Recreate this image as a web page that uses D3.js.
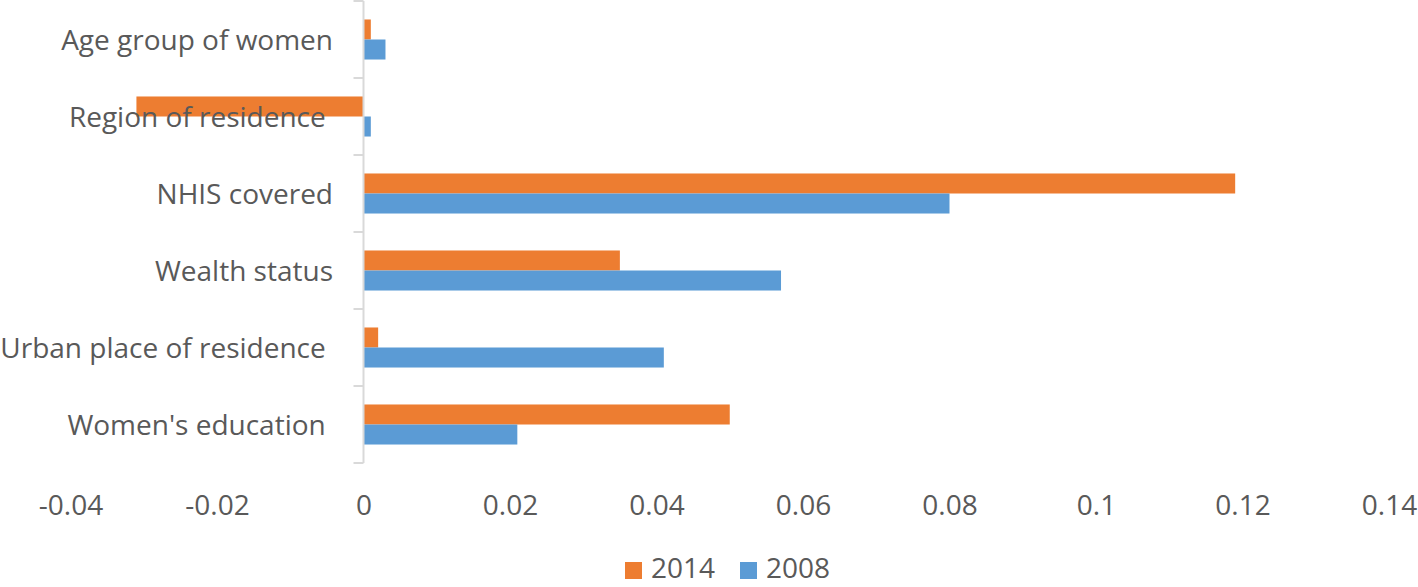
<!DOCTYPE html>
<html><head><meta charset="utf-8">
<script src="https://d3js.org/d3.v7.min.js"></script>
<style>
html,body{margin:0;padding:0;background:#fff;}
svg{display:block;font-family:"Open Sans",sans-serif;}
text{white-space:pre;}
</style></head>
<body>
<script>
const categories = ["Age group of women","Region of residence ","NHIS covered","Wealth status","Urban place of residence ","Women's education "];
const seriesNames = ["2014","2008"];
const values2014 = [0.001,-0.031,0.119,0.035,0.002,0.050];
const values2008 = [0.003,0.001,0.080,0.057,0.041,0.021];
const xTicks = [-0.04,-0.02,0,0.02,0.04,0.06,0.08,0.1,0.12,0.14];
const colors = ["#ED7D31","#5B9BD5"];

const W = 1418, H = 587;
const svg = d3.select("body").append("svg").attr("width",W).attr("height",H);

const x = d3.scaleLinear().domain([-0.04,0.14]).range([70.5,1389]);
const y = d3.scaleBand().domain(categories).range([1,463]).paddingInner(0.48).paddingOuter(0.24);
const ys = d3.scaleBand().domain(seriesNames).range([0,y.bandwidth()]);
const seriesVals = [values2014, values2008];

const g = svg.append("g");
seriesNames.forEach((s,si)=>{
  g.selectAll(null).data(categories).enter().append("rect")
    .attr("x",(d,i)=>x(Math.min(0,seriesVals[si][i])))
    .attr("width",(d,i)=>Math.abs(x(seriesVals[si][i])-x(0)))
    .attr("y",d=>y(d)+ys(s))
    .attr("height",ys.bandwidth())
    .attr("fill",colors[si]);
});

// category labels
svg.append("g").selectAll("text").data(categories).enter().append("text")
  .attr("x",333).attr("y",d=>y(d)+y.bandwidth()/2)
  .attr("dy","0.36em").attr("text-anchor","end")
  .attr("font-size",28).attr("fill","#595959").text(d=>d);

// vertical axis line and ticks
const yEdges = categories.map(c=>y(c)-y.step()*y.paddingInner()/2);
yEdges.push(463);
svg.append("line").attr("x1",x(0)).attr("x2",x(0)).attr("y1",1).attr("y2",463)
  .attr("stroke","#d9d9d9").attr("stroke-width",2);
svg.append("g").selectAll("line").data(yEdges).enter().append("line")
  .attr("x1",x(0)-10).attr("x2",x(0)).attr("y1",d=>d).attr("y2",d=>d)
  .attr("stroke","#d9d9d9").attr("stroke-width",2);

// x axis tick labels
const xAxis = d3.axisBottom(x).tickValues(xTicks).tickSize(0).tickPadding(0).tickFormat(d=>String(d));
const xg = svg.append("g").attr("transform","translate(0,515)").call(xAxis);
xg.select(".domain").remove();
xg.selectAll("text").attr("font-size",28).attr("fill","#595959").attr("font-family","Open Sans, sans-serif").attr("dy","0");

// legend
const legend = svg.append("g");
const legX = [625,740];
seriesNames.forEach((s,i)=>{
  legend.append("rect").attr("x",legX[i]).attr("y",562).attr("width",17).attr("height",17).attr("fill",colors[i]);
  legend.append("text").attr("x",legX[i]+26).attr("y",578).attr("font-size",28).attr("fill","#595959").text(s);
});
</script>
</body></html>
